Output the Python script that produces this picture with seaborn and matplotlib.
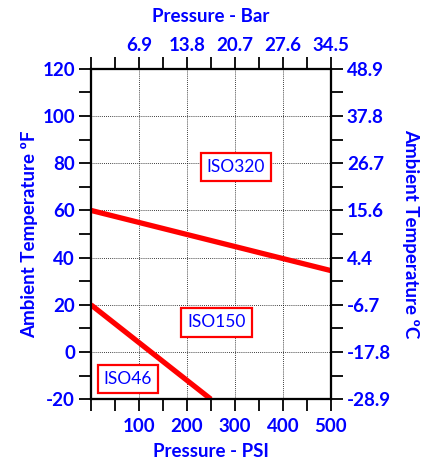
import numpy as np
import pandas as pd
import matplotlib
matplotlib.use("Agg")
import matplotlib.pyplot as plt
import seaborn as sns
from matplotlib.ticker import MultipleLocator

# Data
psi_ticks = [100, 200, 300, 400, 500]
bar_labels = ["6.9", "13.8", "20.7", "27.6", "34.5"]
temp_f_ticks = [-20, 0, 20, 40, 60, 80, 100, 120]
temp_c_labels = ["-28.9", "-17.8", "-6.7", "4.4", "15.6", "26.7", "37.8", "48.9"]

upper_psi = [0, 500]
upper_temp = [60, 34.5]
lower_psi = [0, 250]
lower_temp = [20, -20]

grades = ["ISO320", "ISO150", "ISO46"]
grade_psi = [302, 262, 77]
grade_temp = [78.5, 12.5, -11.5]

blue = "#0000FF"

sns.set_style("white")
plt.rcParams["font.family"] = ["Lato", "DejaVu Sans"]

fig = plt.figure(figsize=(4.23, 4.62), dpi=100)
ax = fig.add_axes([0.215, 0.136, 0.567, 0.715])

df = pd.concat([
    pd.DataFrame({"psi": upper_psi, "temp": upper_temp, "curve": "upper"}),
    pd.DataFrame({"psi": lower_psi, "temp": lower_temp, "curve": "lower"}),
])
sns.lineplot(data=df, x="psi", y="temp", units="curve", estimator=None,
             color="red", linewidth=3.8, ax=ax, solid_capstyle="butt", zorder=3)

ax.set_xlim(0, 500)
ax.set_ylim(-20, 120)

ax.set_xticks(psi_ticks)
ax.set_yticks(temp_f_ticks)
ax.xaxis.set_minor_locator(MultipleLocator(50))
ax.yaxis.set_minor_locator(MultipleLocator(10))
ax.grid(True, which="major", color="black", linestyle=(0, (1, 1.5)), linewidth=0.6)

tick_font = dict(fontsize=13.5, fontweight="bold", color=blue)
label_font = dict(fontsize=13.5, fontweight="bold", color=blue)
ax.tick_params(axis="y", which="both", direction="out", length=8.5, width=1.3, color="black", pad=3)
ax.tick_params(axis="x", which="both", direction="out", length=8.5, width=1.3, color="black", pad=5)

ax.set_xticklabels([str(t) for t in psi_ticks], **tick_font)
ax.set_yticklabels([str(t) for t in temp_f_ticks], **tick_font)
ax.set_xlabel("Pressure - PSI", labelpad=6, **label_font)
ax.set_ylabel("Ambient Temperature ºF", labelpad=3, **label_font)

for s in ax.spines.values():
    s.set_color("black")
    s.set_linewidth(1.5)

# top axis in bar
axt = ax.twiny()
axt.set_xlim(ax.get_xlim())
axt.set_xticks(psi_ticks)
axt.set_xticklabels(bar_labels, **tick_font)
axt.xaxis.set_minor_locator(MultipleLocator(50))
axt.tick_params(which="both", direction="out", length=8.5, width=1.3, color="black", pad=2)
axt.set_xlabel("Pressure - Bar", labelpad=11, **label_font)

# right axis in celsius
axr = ax.twinx()
axr.set_ylim(ax.get_ylim())
axr.set_yticks(temp_f_ticks)
axr.set_yticklabels(temp_c_labels, **tick_font)
axr.yaxis.set_minor_locator(MultipleLocator(10))
axr.tick_params(which="both", direction="out", length=8.5, width=1.3, color="black", pad=3)
axr.set_ylabel("Ambient Temperature ºC", rotation=270, labelpad=20, **label_font)
for a in [axt, axr]:
    for s in a.spines.values():
        s.set_color("black")
        s.set_linewidth(1.5)

for name, x, y in zip(grades, grade_psi, grade_temp):
    ax.text(x, y, name, ha="center", va="center", fontsize=12.5, color=blue, zorder=5,
            bbox=dict(boxstyle="square,pad=0.35", facecolor="white", edgecolor="red", linewidth=1.6))

fig.savefig("out.png", dpi=100)
